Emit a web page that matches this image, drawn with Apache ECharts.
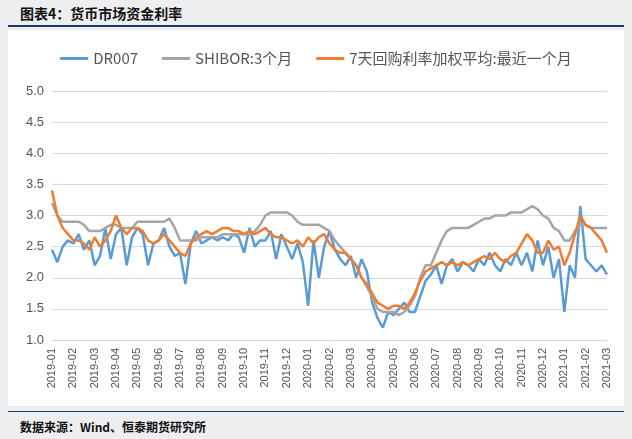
<!DOCTYPE html><html><head><meta charset="utf-8">
<script src="https://cdn.jsdelivr.net/npm/echarts@6/dist/echarts.min.js"></script>
<style>body{margin:0;width:632px;height:439px;background:#eceef0;position:relative;overflow:hidden;font-family:"Noto Sans CJK SC",sans-serif}
#t{position:absolute;left:20px;top:3px;font-size:14px;font-weight:bold;color:#111}
#l1{position:absolute;left:8px;right:8px;top:25px;height:2px;background:#1f3864}
#p{position:absolute;left:8px;right:8px;top:30px;height:376px;background:#fff}
#l2{position:absolute;left:8px;right:8px;top:411px;height:1px;background:#1f3864}
#f{position:absolute;left:20px;top:418px;font-size:12px;font-weight:bold;color:#111}
#c{position:absolute;left:0;top:0;width:632px;height:439px}</style></head><body>
<div id="t">图表4：货币市场资金利率</div><div id="l1"></div><div id="p"></div><div id="l2"></div>
<div id="f">数据来源：Wind、恒泰期货研究所</div><div id="c"></div>
<script>
const months=["2019-01","2019-02","2019-03","2019-04","2019-05","2019-06","2019-07","2019-08","2019-09","2019-10","2019-11","2019-12","2020-01","2020-02","2020-03","2020-04","2020-05","2020-06","2020-07","2020-08","2020-09","2020-10","2020-11","2020-12","2021-01","2021-02","2021-03"];
const seriesNames=["DR007","SHIBOR:3个月","7天回购利率加权平均:最近一个月"];
const dr007=[2.45,2.25,2.5,2.6, 2.55,2.7,2.45,2.6, 2.2,2.35,2.8,2.3, 2.7,2.8,2.2,2.65, 2.8,2.7,2.2,2.55, 2.6,2.8,2.5,2.35, 2.4,1.9,2.55,2.75, 2.55,2.6,2.65,2.6, 2.65,2.6,2.7,2.65, 2.4,2.8,2.5,2.6, 2.6,2.75,2.3,2.7, 2.5,2.3,2.55,2.25, 1.55,2.6,2.0,2.5, 2.75,2.45,2.3,2.2, 2.35,2.0,2.3,2.1, 1.6,1.35,1.2,1.45, 1.4,1.5,1.6,1.45, 1.45,1.7,1.95,2.05, 2.2,1.9,2.2,2.3, 2.1,2.25,2.2,2.1, 2.3,2.2,2.4,2.2, 2.1,2.3,2.2,2.4, 2.2,2.4,2.1,2.6, 2.2,2.5,2.0,2.3, 1.45,2.2,2.0,3.15, 2.3,2.2,2.1,2.2, 2.05];
const shibor=[3.2,3.0,2.9,2.9, 2.9,2.9,2.85,2.75, 2.75,2.75,2.8,2.85, 2.85,2.8,2.8,2.8, 2.9,2.9,2.9,2.9, 2.9,2.9,2.95,2.8, 2.6,2.6,2.6,2.6, 2.65,2.65,2.65,2.65, 2.7,2.7,2.7,2.7, 2.7,2.7,2.75,2.85, 3.0,3.05,3.05,3.05, 3.05,3.0,2.9,2.85, 2.85,2.85,2.85,2.8, 2.75,2.6,2.5,2.4, 2.3,2.2,2.0,1.85, 1.7,1.5,1.45,1.45, 1.45,1.4,1.45,1.55, 1.7,2.0,2.2,2.2, 2.4,2.6,2.75,2.8, 2.8,2.8,2.8,2.85, 2.9,2.95,2.95,3.0, 3.0,3.0,3.05,3.05, 3.05,3.1,3.15,3.1, 3.0,2.95,2.8,2.75, 2.6,2.6,2.75,2.85, 2.85,2.8,2.8,2.8, 2.8];
const repo7=[3.4,3.0,2.8,2.7, 2.6,2.6,2.55,2.45, 2.65,2.5,2.6,2.75, 3.0,2.8,2.7,2.8, 2.8,2.75,2.6,2.55, 2.6,2.7,2.6,2.5, 2.4,2.35,2.55,2.65, 2.7,2.75,2.7,2.75, 2.8,2.8,2.75,2.75, 2.7,2.75,2.7,2.75, 2.8,2.7,2.65,2.65, 2.6,2.55,2.6,2.5, 2.65,2.55,2.65,2.7, 2.55,2.45,2.4,2.4, 2.3,2.2,2.0,1.9, 1.75,1.6,1.55,1.5, 1.55,1.55,1.5,1.6, 1.75,1.95,2.1,2.15, 2.2,2.25,2.2,2.25, 2.2,2.25,2.2,2.25, 2.3,2.35,2.3,2.4, 2.3,2.25,2.35,2.4, 2.55,2.7,2.6,2.4, 2.4,2.6,2.45,2.5, 2.2,2.4,2.7,3.0, 2.85,2.8,2.7,2.6, 2.4];
const yTicks=[1.0,5.0,0.5];
const cats=[];months.forEach((m,i)=>{if(i<months.length-1){for(let k=0;k<4;k++)cats.push(k===0?m:m+"#"+k);}else cats.push(m);});
const c=echarts.init(document.getElementById('c'));
const mk=(n,d,col)=>({name:n,type:'line',data:d,symbol:'none',lineStyle:{width:2.5,color:col},itemStyle:{color:col}});
c.setOption({
 legend:{top:46,left:'center',itemWidth:28,itemHeight:3,itemGap:24,icon:'rect',textStyle:{fontSize:15,color:'#555',fontFamily:'Noto Sans CJK SC'},data:seriesNames},
 grid:{left:52,right:25,top:91,bottom:99},
 xAxis:{type:'category',data:cats,boundaryGap:false,axisTick:{show:false},axisLine:{lineStyle:{color:'#d9d9d9'}},
  axisLabel:{rotate:90,color:'#555',fontSize:11,interval:(i,v)=>v.indexOf('#')<0,formatter:v=>v.indexOf('#')<0?v:''}},
 yAxis:{type:'value',min:yTicks[0],max:yTicks[1],interval:yTicks[2],axisLine:{show:false},axisTick:{show:false},
  axisLabel:{color:'#555',fontSize:13,formatter:v=>v.toFixed(1)},splitLine:{lineStyle:{color:'#d9d9d9'}}},
 series:[mk(seriesNames[0],dr007,'#5b9bd5'),mk(seriesNames[1],shibor,'#a5a5a5'),mk(seriesNames[2],repo7,'#ed7d31')]
});
</script></body></html>
